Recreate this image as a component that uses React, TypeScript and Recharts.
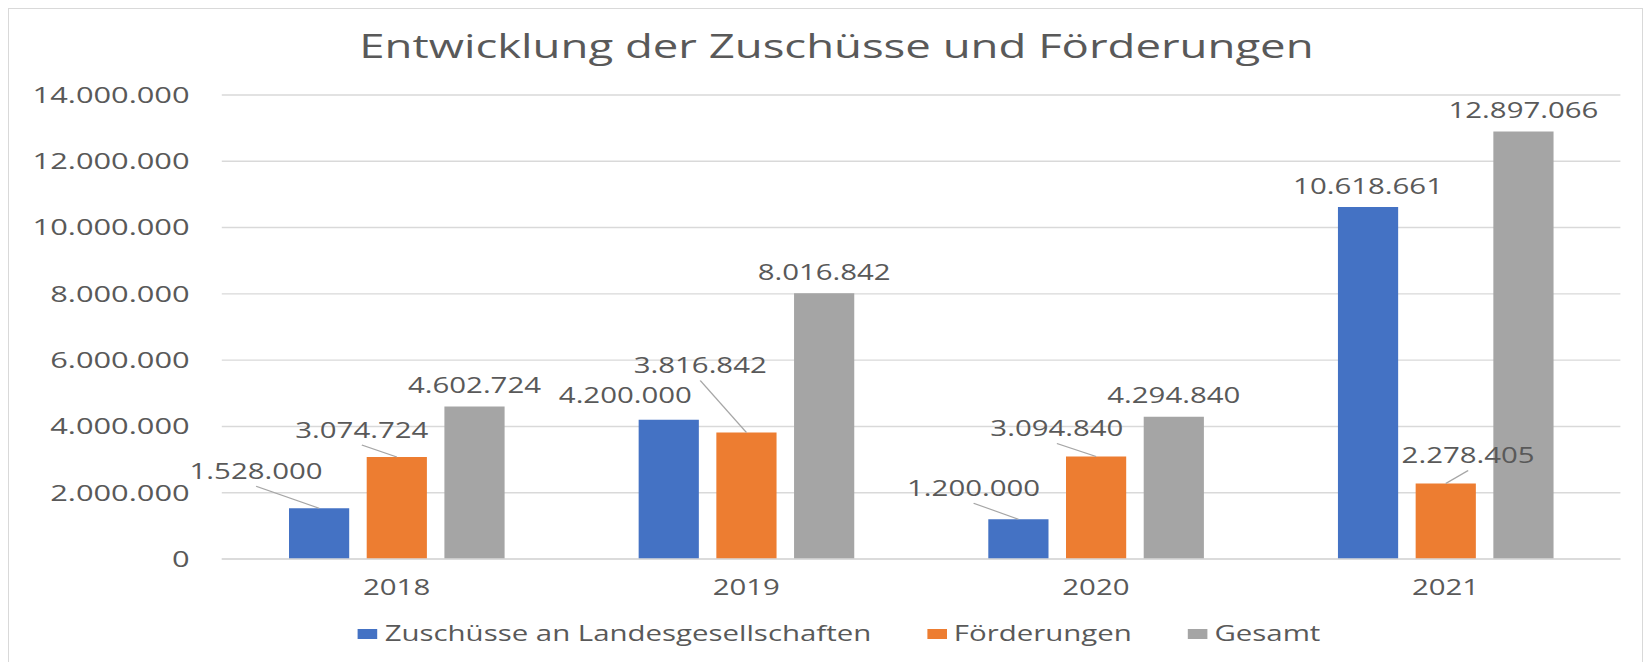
import { Bar, BarChart, CartesianGrid, LabelList, XAxis, YAxis } from "recharts";

const YEARS = ["2018", "2019", "2020", "2021"];
const ZUSCHUESSE = [1528000, 4200000, 1200000, 10618661];
const FOERDERUNGEN = [3074724, 3816842, 3094840, 2278405];
const GESAMT = [4602724, 8016842, 4294840, 12897066];
const Y_TICKS = [0, 2000000, 4000000, 6000000, 8000000, 10000000, 12000000, 14000000];

const TITLE = "Entwicklung der Zuschüsse und Förderungen";
const SERIES = [
  { key: "zuschuesse", name: "Zuschüsse an Landesgesellschaften", color: "#4472c4" },
  { key: "foerderungen", name: "Förderungen", color: "#ed7d31" },
  { key: "gesamt", name: "Gesamt", color: "#a5a5a5" },
];

// hand-placed label nudges [dx, dy, leader line?] in chart px (before the x-stretch)
const NUDGE_Z: [number, number, boolean][] = [[-45, -16, true], [-31, -3, false], [-32, -10, true], [0, 0, false]];
const NUDGE_F: [number, number, boolean][] = [[-25, -6, true], [-33, -46, true], [-28, -7, true], [16, -7, true]];
const NUDGE_G: [number, number, boolean][] = [[0, 0, false], [0, 0, false], [0, 0, false], [0, 0, false]];

const FONT = "'Open Sans', sans-serif";
const TXT = "#595959";
const STRETCH = 1.4; // the original export is stretched horizontally
const W = 1166, H = 652;

const fmt = (v: number) => String(v).replace(/\B(?=(\d{3})+(?!\d))/g, ".");

const data = YEARS.map((y, i) => ({
  year: y, zuschuesse: ZUSCHUESSE[i], foerderungen: FOERDERUNGEN[i], gesamt: GESAMT[i],
}));

const makeLabel = (nudges: [number, number, boolean][]) => (props: any) => {
  const { x, y, width, value, index } = props;
  const [dx, dy, leader] = nudges[index];
  const bx = Number(x) + Number(width) / 2;
  const cx = bx + dx, cy = Number(y) - 21 + dy;
  return (
    <g>
      {leader && <line x1={cx} y1={cy + 15} x2={bx} y2={Number(y)} stroke="#a6a6a6" strokeWidth={1.1} />}
      <text x={cx} y={cy + 7.5} textAnchor="middle" fill={TXT} fontSize={21} fontFamily={FONT}>{fmt(value)}</text>
    </g>
  );
};

const NUDGES = [NUDGE_Z, NUDGE_F, NUDGE_G];

export default function App() {
  return (
    <div style={{ position: "fixed", left: 0, top: 0, width: 1651, height: 662, overflow: "hidden", background: "#fff" }}>
      <div style={{ position: "absolute", left: 8, top: 8, width: 1633, height: 700, border: "1px solid #d9d9d9" }}>
        <div style={{ position: "absolute", left: 0, top: 0, width: W, height: H,
          transform: `scaleX(${STRETCH})`, transformOrigin: "0 0" }}>
          <div style={{ position: "absolute", left: 0, right: 0, top: 21, paddingLeft: 16, textAlign: "center",
            fontFamily: FONT, fontSize: 32.5, lineHeight: "32px", color: TXT }}>{TITLE}</div>
          <BarChart width={W} height={H} data={data} barSize={43} barGap={12.5}
            margin={{ top: 86, right: 15, bottom: 62, left: 0 }}>
            <CartesianGrid vertical={false} stroke="#d9d9d9" strokeWidth={1.4} />
            <XAxis dataKey="year" height={40} axisLine={{ stroke: "#d9d9d9", strokeWidth: 1.4 }} tickLine={false}
              tickSize={0} tickMargin={21} tick={{ fill: TXT, fontSize: 21, fontFamily: FONT }} />
            <YAxis width={152} domain={[0, 14000000]} ticks={Y_TICKS} interval={0} tickFormatter={fmt}
              axisLine={false} tickLine={false} tickSize={0} tickMargin={23}
              tick={{ fill: TXT, fontSize: 22, fontFamily: FONT }} />
            {SERIES.map((s, i) => (
              <Bar key={s.key} dataKey={s.key} name={s.name} fill={s.color} isAnimationActive={false}>
                <LabelList dataKey={s.key} content={makeLabel(NUDGES[i])} />
              </Bar>
            ))}
          </BarChart>
          <div style={{ position: "absolute", left: 0, right: 0, top: 614, paddingLeft: 20, display: "flex",
            justifyContent: "center", alignItems: "center", gap: 40, fontFamily: FONT, fontSize: 21,
            lineHeight: "21px", color: TXT }}>
            {SERIES.map(s => (
              <span key={s.key} style={{ display: "flex", alignItems: "center", gap: 5 }}>
                <span style={{ width: 14, height: 10, background: s.color, display: "inline-block" }} />
                {s.name}
              </span>
            ))}
          </div>
        </div>
      </div>
    </div>
  );
}
